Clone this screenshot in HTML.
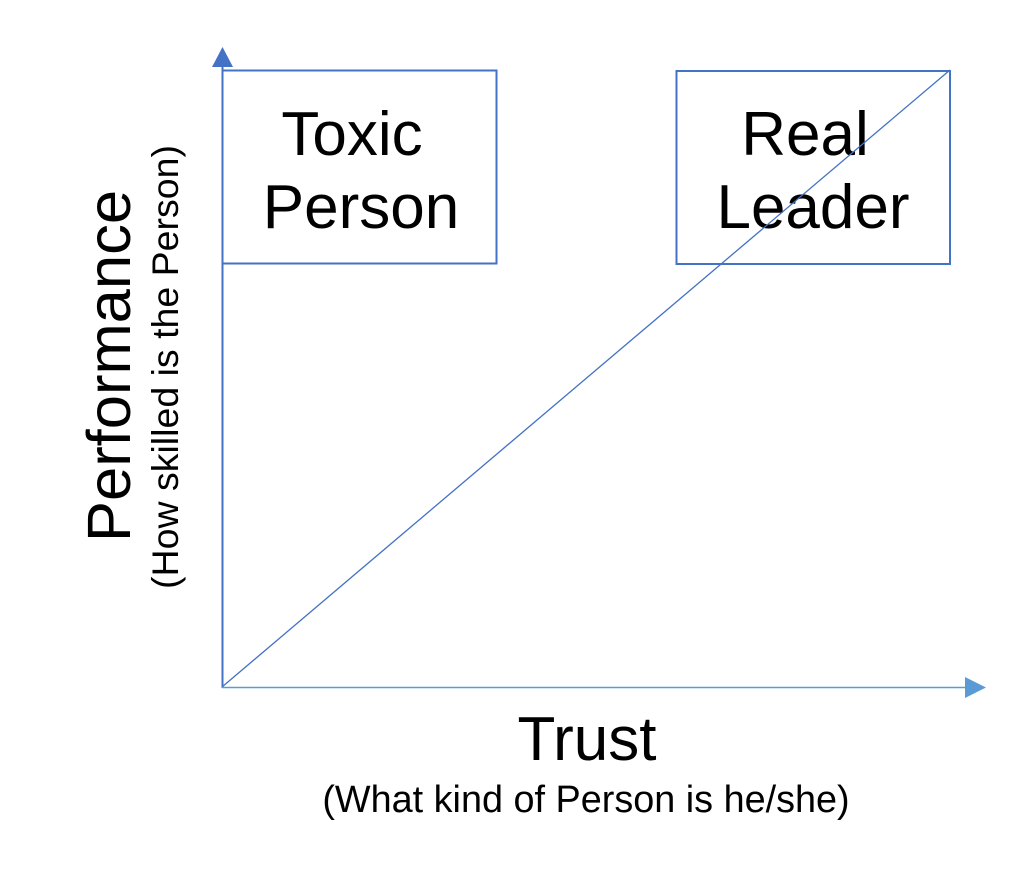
<!DOCTYPE html>
<html><head><meta charset="utf-8"><style>html,body{margin:0;padding:0;background:#fff}svg{display:block}</style></head>
<body>
<svg width="1024" height="874" viewBox="0 0 1024 874" xmlns="http://www.w3.org/2000/svg" font-family="Liberation Sans, Arial, sans-serif">
<rect x="0" y="0" width="1024" height="874" fill="#fff"/>
<rect x="222.5" y="70.5" width="274" height="193" fill="none" stroke="#4472C4" stroke-width="2"/>
<rect x="676.5" y="71" width="273.5" height="193" fill="none" stroke="#4472C4" stroke-width="2"/>
<text x="352" y="155" font-size="62" text-anchor="middle">Toxic</text>
<text x="361" y="228" font-size="62" text-anchor="middle">Person</text>
<text x="805" y="155" font-size="62" text-anchor="middle">Real</text>
<text x="813" y="228" font-size="62" text-anchor="middle">Leader</text>
<line x1="222" y1="687" x2="950" y2="70" stroke="#4472C4" stroke-width="1.3"/>
<line x1="222.5" y1="66" x2="222.5" y2="688" stroke="#4472C4" stroke-width="2"/>
<polygon points="222.5,47 212,67 233,67" fill="#4472C4"/>
<line x1="222" y1="687.5" x2="966" y2="687.5" stroke="#5B9BD5" stroke-width="1.5"/>
<polygon points="986,687.5 965,677 965,698" fill="#5B9BD5"/>
<text transform="translate(130,366) rotate(-90)" font-size="61.5" text-anchor="middle">Performance</text>
<text transform="translate(178,367) rotate(-90)" font-size="37.5" text-anchor="middle">(How skilled is the Person)</text>
<text x="587" y="760" font-size="62" text-anchor="middle">Trust</text>
<text x="586" y="812" font-size="37.8" text-anchor="middle">(What kind of Person is he/she)</text>
</svg>
</body></html>
